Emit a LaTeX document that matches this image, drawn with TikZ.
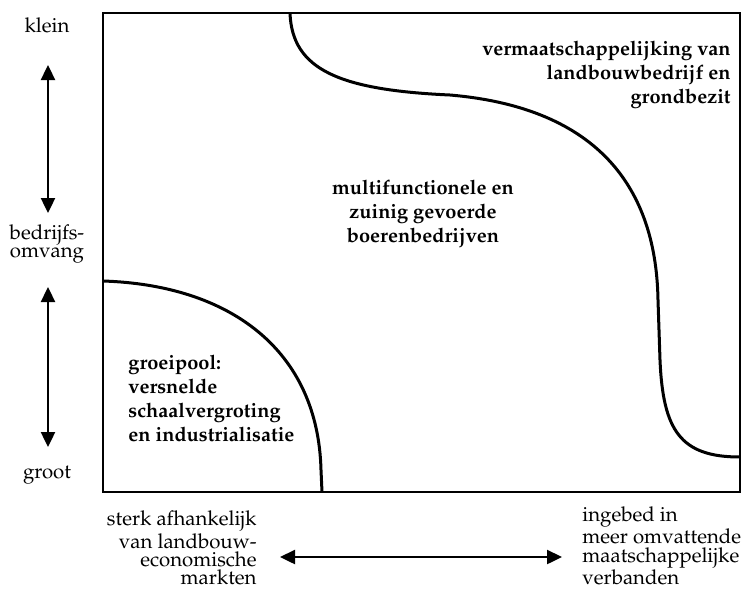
\documentclass[tikz,border=0pt]{standalone}
\usepackage[T1]{fontenc}
\usepackage{mathpazo}
\usetikzlibrary{arrows.meta}
\usetikzlibrary{math}

\begin{document}
\begin{tikzpicture}[x=0.5pt,y=-0.5pt,
  axlabel/.style={font=\fontsize{10.2}{9.2}\selectfont, inner sep=0pt},
  zonelabel/.style={font=\fontsize{10}{12}\selectfont\bfseries, inner sep=0pt},
  axarrow/.style={line width=1.2pt, {Triangle[length=7.5pt,width=7pt]}-{Triangle[length=7.5pt,width=7pt]}},
  zoneline/.style={line width=1.5pt}]
\useasboundingbox (0,0) rectangle (744,607);
\tikzmath{
\xL=103;
\xR=740;
\yT=13;
\yB=492;
}
% kader
\draw[line width=1.2pt] (\xL,\yT) rectangle (\xR,\yB);

% grenzen tussen de zones
\coordinate (T0) at (290,\yT);
\coordinate (T1) at (450,95);
\coordinate (T2) at (658,300);
\coordinate (T3) at (660,360);
\coordinate (T4) at (\xR,457);
\draw[zoneline] (T0) .. controls (292,70) and (340,90) .. (T1)
  .. controls (590,107) and (656,180) .. (T2) -- (T3)
  .. controls (663,430) and (680,457) .. (T4);

\coordinate (G0) at (\xL,281);
\coordinate (G1) at (321,470);
\coordinate (G2) at (322,\yB);
\draw[zoneline] (G0) .. controls (230,285) and (318,350) .. (G1) -- (G2);

% zones
\node[zonelabel, align=right, anchor=east] (verm) at (731,75)
  {vermaatschappelijking van\\landbouwbedrijf en\\grondbezit};
\node[zonelabel, align=center] (multi) at (423,214)
  {multifunctionele en\\zuinig gevoerde\\boerenbedrijven};
\node[zonelabel, align=left, anchor=west] (groei) at (128,398)
  {groeipool:\\versnelde\\schaalvergroting\\en industrialisatie};

% verticale as
\node[axlabel] (klein) at (47,25) {klein};
\node[axlabel, align=center] (omvang) at (47,244) {bedrijfs-\\omvang};
\node[axlabel] (groot) at (47,475) {groot};
\coordinate (V1) at (48,65);
\coordinate (V2) at (48,213);
\coordinate (V3) at (48,287);
\coordinate (V4) at (48,447);
\draw[axarrow] (V1) -- (V2);
\draw[axarrow] (V3) -- (V4);

% horizontale as
\node[axlabel, align=right, anchor=east] (markt) at (257,548)
  {sterk afhankelijk\\van landbouw-\\economische\\markten};
\node[axlabel, align=left, anchor=west] (ingebed) at (582,546)
  {ingebed in\\meer omvattende\\maatschappelijke\\verbanden};
\coordinate (H1) at (280,557);
\coordinate (H2) at (562,557);
\draw[axarrow] (H1) -- (H2);
\end{tikzpicture}
\end{document}
